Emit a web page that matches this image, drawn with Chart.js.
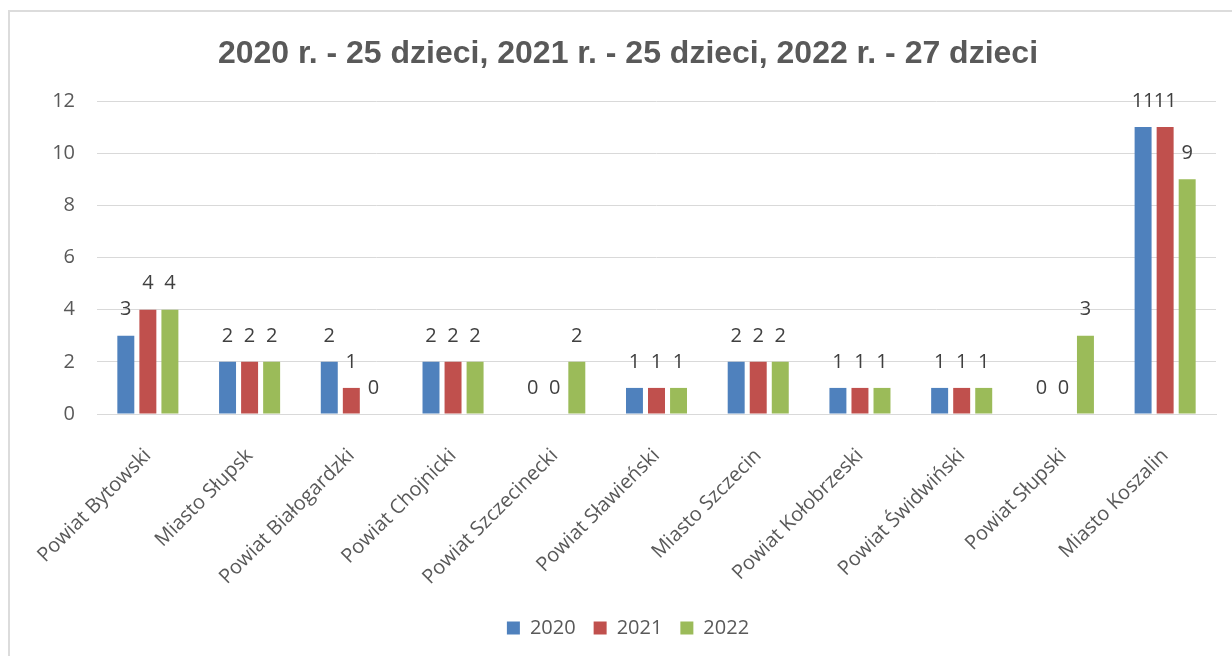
<!DOCTYPE html>
<html>
<head>
<meta charset="utf-8">
<script src="https://cdn.jsdelivr.net/npm/chart.js@4.4.1/dist/chart.umd.min.js"></script>
<style>
html,body{margin:0;padding:0;background:#fff;width:1232px;height:656px;overflow:hidden;}
#frame{position:absolute;left:8px;top:10px;width:1400px;height:800px;border:2px solid #dcdcdc;box-sizing:border-box;}
#c{position:absolute;left:0;top:0;}
</style>
</head>
<body>
<div id="frame"></div>
<canvas id="c" width="1232" height="656"></canvas>
<script>
const titleText = "2020 r. - 25 dzieci, 2021 r. - 25 dzieci, 2022 r. - 27 dzieci";
const categories = ["Powiat Bytowski","Miasto Słupsk","Powiat Białogardzki","Powiat Chojnicki","Powiat Szczecinecki","Powiat Sławieński","Miasto Szczecin","Powiat Kołobrzeski","Powiat Świdwiński","Powiat Słupski","Miasto Koszalin"];
const seriesNames = ["2020","2021","2022"];
const values2020 = [3,2,2,2,0,1,2,1,1,0,11];
const values2021 = [4,2,1,2,0,1,2,1,1,0,11];
const values2022 = [4,2,0,2,2,1,2,1,1,3,9];
const yTicks = [0,2,4,6,8,10,12];
const colors = ["#4f81bd","#c0504d","#9bbb59"];

const FONT = "'Open Sans', 'DejaVu Sans', sans-serif";
const TXT = "#595959";

const valueLabels = {
  id: 'valueLabels',
  afterDatasetsDraw(chart) {
    const ctx = chart.ctx;
    ctx.save();
    ctx.font = "20px " + FONT;
    ctx.fillStyle = "#404040";
    ctx.textAlign = "center";
    ctx.textBaseline = "middle";
    chart.data.datasets.forEach((ds, i) => {
      const meta = chart.getDatasetMeta(i);
      meta.data.forEach((el, j) => {
        ctx.fillText(String(ds.data[j]), el.x, el.y - 26);
      });
    });
    ctx.restore();
  }
};

new Chart(document.getElementById('c'), {
  type: 'bar',
  data: {
    labels: categories,
    datasets: [values2020, values2021, values2022].map((d, i) => ({
      label: seriesNames[i],
      data: d,
      backgroundColor: colors[i],
      borderWidth: 0,
      barPercentage: 0.77,
      categoryPercentage: 0.65
    }))
  },
  options: {
    responsive: false,
    animation: false,
    devicePixelRatio: 1,
    layout: { padding: { left: 40, right: 16, top: 0, bottom: 8 } },
    plugins: {
      title: {
        display: true,
        text: titleText,
        color: TXT,
        font: { family: "'Liberation Sans', Arial, sans-serif", size: 32, weight: 'bold', lineHeight: 1.2 },
        padding: { top: 35, bottom: 27.6 }
      },
      legend: {
        position: 'bottom',
        labels: {
          color: TXT,
          font: { family: FONT, size: 20 },
          boxWidth: 13,
          boxHeight: 13,
          padding: 18
        }
      },
      tooltip: { enabled: false }
    },
    scales: {
      x: {
        grid: { display: false, drawTicks: false },
        border: { color: '#d9d9d9', width: 1 },
        ticks: {
          color: TXT,
          font: { family: FONT, size: 20 },
          maxRotation: 45,
          minRotation: 45,
          autoSkip: false,
          padding: 30
        },
        afterFit(s) { s.height = 186; }
      },
      y: {
        min: 0,
        max: 12,
        afterBuildTicks(s) { s.ticks = yTicks.map(v => ({ value: v })); },
        grid: { color: '#d9d9d9', lineWidth: 1, drawTicks: false },
        border: { display: false },
        ticks: {
          color: TXT,
          font: { family: FONT, size: 20 },
          padding: 22
        },
        afterFit(s) { s.width = 57; }
      }
    }
  },
  plugins: [valueLabels]
});
</script>
</body>
</html>
